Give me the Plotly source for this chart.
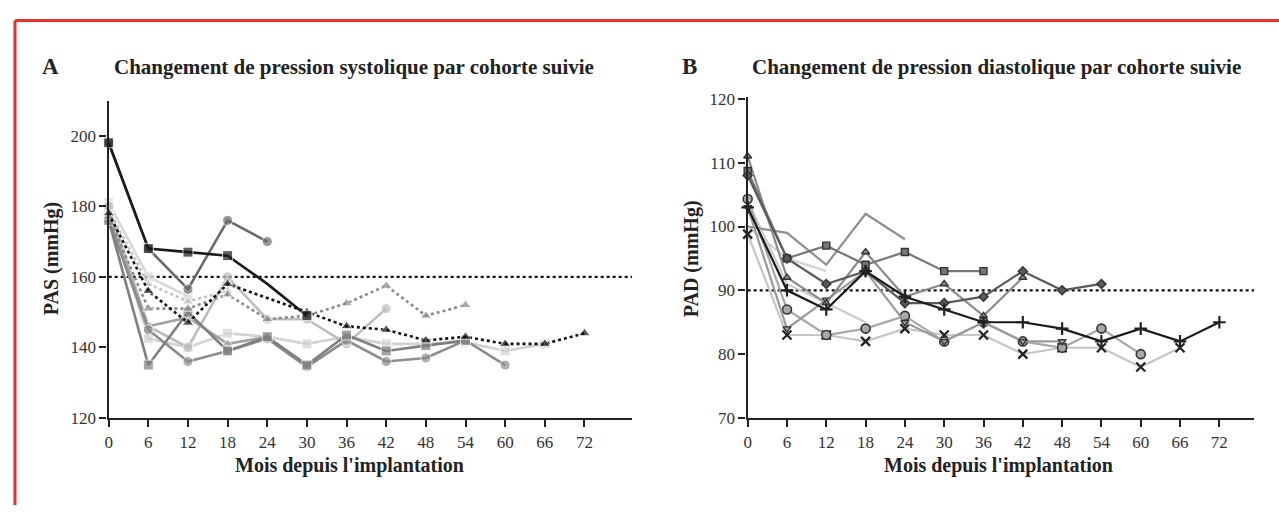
import plotly.graph_objects as go

# ---------------- data ----------------
months = [0, 6, 12, 18, 24, 30, 36, 42, 48, 54, 60, 66, 72]
x_ticks = [0, 6, 12, 18, 24, 30, 36, 42, 48, 54, 60, 66, 72]
sys_ticks = [120, 140, 160, 180, 200]
dia_ticks = [70, 80, 90, 100, 110, 120]
sys_threshold = 160
dia_threshold = 90

# Panel A: systolic (PAS) per cohort
sysA_black_sq = [198, 168, 167, 166, 158, 149]
sysA_dkgrey_circ = [198, 168, 156.5, 176, 170]
sysA_black_dot_tri = [178, 156, 147, 158, 154, 150, 146, 145, 142, 143, 141, 141, 144]
sysA_grey_dot_tri = [177, 151, 151, 155, 148, 149, 152.5, 157.5, 149, 152]
sysA_light_dot = [179, 158, 153, 156]
sysA_light_circ = [180, 146, 140, 160, 148, 148, 141, 151]
sysA_light_sq = [180, 142.5, 140, 144, 143, 141, 143, 141, 141, 141.5, 139, 141]
sysA_vlight_sq = [181, 160, 154.5]
sysA_grey_sq = [176, 135, 150, 139, 143, 135, 143.5, 139, 140.5, 142]
sysA_grey_circ = [176, 145, 136, 139, 142.5, 134.5, 142, 136, 137, 142, 135]
sysA_grey_tri = [177, 146, 148.5, 141, 143, 135]

# Panel B: diastolic (PAD) per cohort
diaB_black_plus = [103, 90, 87, 93, 89, 87, 85, 85, 84, 82, 84, 82, 85]
diaB_light_x = [98.8, 83, 83, 82, 84, 83, 83, 80, 81, 81, 78, 81]
diaB_grey_circ = [104.3, 87, 83, 84, 86, 82, 85, 82, 81, 84, 80]
diaB_dark_diam = [108, 95, 91, 93, 88, 88, 89, 93, 90, 91]
diaB_grey_sq = [108.7, 95, 97, 94, 96, 93, 93]
diaB_grey_plain = [100, 99, 94, 102, 98]
diaB_grey_tri = [111, 92, 88, 96, 89, 91, 86, 92]
diaB_grey_tridown = [103, 84, 88.5, 93, 85, 82, 85, 82, 82]
diaB_light_plain1 = [100, 95, 93]
diaB_light_plain2 = [104, 91, 88, 85]

# ---------------- styles ----------------
# (values, colour, dash, symbol, months without a visible marker)
seriesA = [
    (sysA_vlight_sq, "#d9d9d9", "solid", "square", []),
    (sysA_light_dot, "#c4c4c4", "dot", "triangle-up", []),
    (sysA_light_sq, "#d2d2d2", "solid", "square", []),
    (sysA_light_circ, "#bdbdbd", "solid", "circle", []),
    (sysA_grey_tri, "#a3a3a3", "solid", "triangle-up", []),
    (sysA_grey_circ, "#8c8c8c", "solid", "circle", []),
    (sysA_grey_sq, "#7f7f7f", "solid", "square", []),
    (sysA_grey_dot_tri, "#8a8a8a", "dot", "triangle-up", []),
    (sysA_dkgrey_circ, "#6a6a6a", "solid", "circle", []),
    (sysA_black_dot_tri, "#111111", "dot", "triangle-up", [24]),
    (sysA_black_sq, "#1a1a1a", "solid", "square", [24]),
]

seriesB = [
    (diaB_light_plain1, "#d4d4d4", None),
    (diaB_light_plain2, "#cccccc", None),
    (diaB_grey_plain, "#8f8f8f", None),
    (diaB_light_x, "#c6c6c6", "x-thin"),
    (diaB_grey_circ, "#a8a8a8", "circle-open"),
    (diaB_grey_tridown, "#9a9a9a", "triangle-down"),
    (diaB_grey_tri, "#8a8a8a", "triangle-up"),
    (diaB_grey_sq, "#777777", "square"),
    (diaB_dark_diam, "#5a5a5a", "diamond"),
    (diaB_black_plus, "#1a1a1a", "cross-thin"),
]

fig = go.Figure()

for vals, col, dash, sym, hidden in seriesA:
    xs = months[:len(vals)]
    sizes = [0 if m in hidden else 10 for m in xs]
    fig.add_trace(go.Scatter(
        x=xs, y=vals, mode="lines+markers",
        line=dict(color=col, width=2.6, dash=dash),
        marker=dict(symbol=sym, size=sizes, color=col),
        cliponaxis=False, showlegend=False, xaxis="x", yaxis="y"))

for vals, col, sym in seriesB:
    if sym is None:
        mode = "lines"
        marker = dict()
    elif sym in ("x-thin", "cross-thin"):
        mode = "lines+markers"
        marker = dict(symbol=sym, size=9, color="#222",
                      line=dict(color="#222", width=2.2))
    elif sym == "circle-open":
        mode = "lines+markers"
        marker = dict(symbol="circle", size=9, color=col,
                      line=dict(color="#333", width=1.6))
    else:
        mode = "lines+markers"
        marker = dict(symbol=sym, size=7, color=col,
                      line=dict(color="#333", width=1.4))
    fig.add_trace(go.Scatter(
        x=months[:len(vals)], y=vals, mode=mode,
        line=dict(color=col, width=2.2), marker=marker,
        cliponaxis=False, showlegend=False, xaxis="x2", yaxis="y2"))

serif = "Liberation Serif, Times New Roman, serif"
W, H = 1279, 515

def px(xp):
    return xp / W

def py(yp):
    return 1 - yp / H

axis_common = dict(showline=True, linecolor="#222", linewidth=2.4,
                   ticks="outside", ticklen=7, tickwidth=1.6, tickcolor="#222",
                   showgrid=False, zeroline=False, mirror=False,
                   tickfont=dict(family=serif, size=17, color="#333"))

fig.update_layout(
    width=W, height=H, margin=dict(l=0, r=0, t=0, b=0),
    paper_bgcolor="white", plot_bgcolor="white",
    xaxis=dict(domain=[px(105), px(630)], range=[0, 79.2], tickvals=x_ticks,
               anchor="y", **axis_common),
    yaxis=dict(domain=[py(425), py(97)], range=[120, 209.9], tickvals=sys_ticks,
               anchor="x", **axis_common),
    xaxis2=dict(domain=[px(746), px(1254)], range=[0, 77.3], tickvals=x_ticks,
                anchor="y2", **axis_common),
    yaxis2=dict(domain=[py(425), py(93)], range=[70, 120.3], tickvals=dia_ticks,
                anchor="x2", **axis_common),
)

# threshold lines
fig.add_shape(type="line", xref="x domain", yref="y", x0=0, x1=1,
              y0=sys_threshold, y1=sys_threshold,
              line=dict(color="#111", width=2.2, dash="dot"), layer="below")
fig.add_shape(type="line", xref="x2 domain", yref="y2", x0=0, x1=1,
              y0=dia_threshold, y1=dia_threshold,
              line=dict(color="#111", width=2.2, dash="dot"), layer="below")

# red frame (open on right and bottom, as cropped in the source)
fig.add_shape(type="line", xref="paper", yref="paper",
              x0=px(11), x1=1.0, y0=py(14), y1=py(14),
              line=dict(color="#e8302a", width=3))
fig.add_shape(type="line", xref="paper", yref="paper",
              x0=px(11), x1=px(11), y0=0.0, y1=py(14),
              line=dict(color="#e8302a", width=3))

def ann(text, x, y, size, bold=True, angle=0):
    fig.add_annotation(text=f"<b>{text}</b>" if bold else text,
                       x=px(x), y=py(y), xref="paper", yref="paper",
                       showarrow=False, textangle=angle,
                       font=dict(family=serif, size=size, color="#222"),
                       xanchor="center", yanchor="middle")

ann("A", 47, 62, 23)
ann("Changement de pression systolique par cohorte suivie", 351, 62, 21)
ann("B", 688, 62, 23)
ann("Changement de pression diastolique par cohorte suivie", 996, 62, 21)
ann("PAS (mmHg)", 48, 260, 20, angle=-90)
ann("PAD (mmHg)", 690, 260, 20, angle=-90)
ann("Mois depuis l'implantation", 347, 474, 20)
ann("Mois depuis l'implantation", 998, 474, 20)

fig.write_html("out.html", config={"displayModeBar": False},
               post_script="document.body.style.margin='0px';")
